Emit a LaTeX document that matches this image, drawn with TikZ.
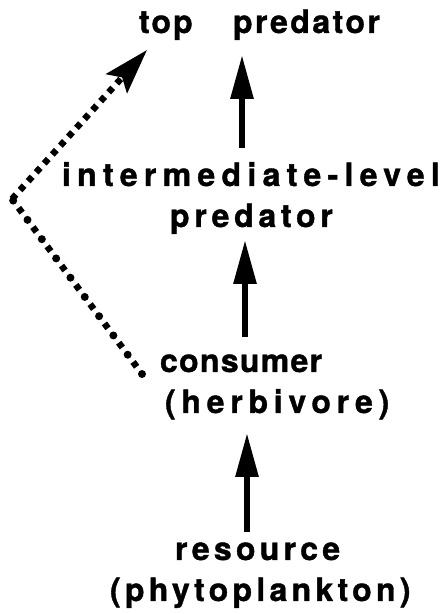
\documentclass[tikz,border=0pt]{standalone}
\usepackage{fontspec}
\setmainfont{TeX Gyre Heros}
\usetikzlibrary{arrows.meta}
\newcommand{\lab}[2]{{\fontsize{32pt}{32pt}\selectfont\bfseries\addfontfeatures{LetterSpace=#1,FakeBold=1.2}#2}}
\tikzset{
  lbl/.style={anchor=base west, inner sep=0pt, outer sep=0pt},
  solidarrow/.style={line width=6pt, -{Triangle[length=44pt, width=22pt]}},
  sqdots/.style={line width=6.5pt, dash pattern=on 6pt off 6pt},
  rounddots/.style={line width=8pt, line cap=round, dash pattern=on 0pt off 24pt},
  sqsparse/.style={line width=6.5pt, dash pattern=on 6pt off 18pt, dash phase=-9pt},
}
\begin{document}
\begin{tikzpicture}[x=1pt,y=1pt]
\useasboundingbox (0,0) rectangle (443,614);
\fill[white] (0,0) rectangle (443,614);
% labels (baselines measured from top: y_tikz = 614 - y_px)
\node[lbl] (top) at (139,581) {\lab{6.6}{top}};
\node[lbl] (toppred) at (233,581) {\lab{7.7}{predator}};
\node[lbl] (inter) at (62,428) {\lab{19.7}{intermediate-level}};
\node[lbl] (ipred) at (170,387) {\lab{14.8}{predator}};
\node[lbl] (cons) at (160,242) {\lab{4.1}{consumer}};
\node[lbl] (herb) at (165,201) {\lab{18}{(herbivore)}};
\node[lbl] (res) at (175,54) {\lab{13.3}{resource}};
\node[lbl] (phyto) at (110,13) {\lab{13.4}{(phytoplankton)}};
% arrow end points
\coordinate (a1s) at (242,466);
\coordinate (a1e) at (242,559);
\coordinate (a2s) at (245,277);
\coordinate (a2e) at (245,374);
\coordinate (a3s) at (247,82);
\coordinate (a3e) at (247,181);
\draw[solidarrow] (a1s) -- (a1e);
\draw[solidarrow] (a2s) -- (a2e);
\draw[solidarrow] (a3s) -- (a3e);
% dotted indirect link
\coordinate (dl) at (142,240);
\coordinate (dv) at (12,415);
\coordinate (dt) at (147,564);
\draw[rounddots] (dl) -- (dv);
\draw[sqsparse] (dl) -- (dv);
\draw[sqdots, -{Stealth[length=45pt, width=28pt, inset=8pt]}] (dv) -- (dt);
\end{tikzpicture}
\end{document}
